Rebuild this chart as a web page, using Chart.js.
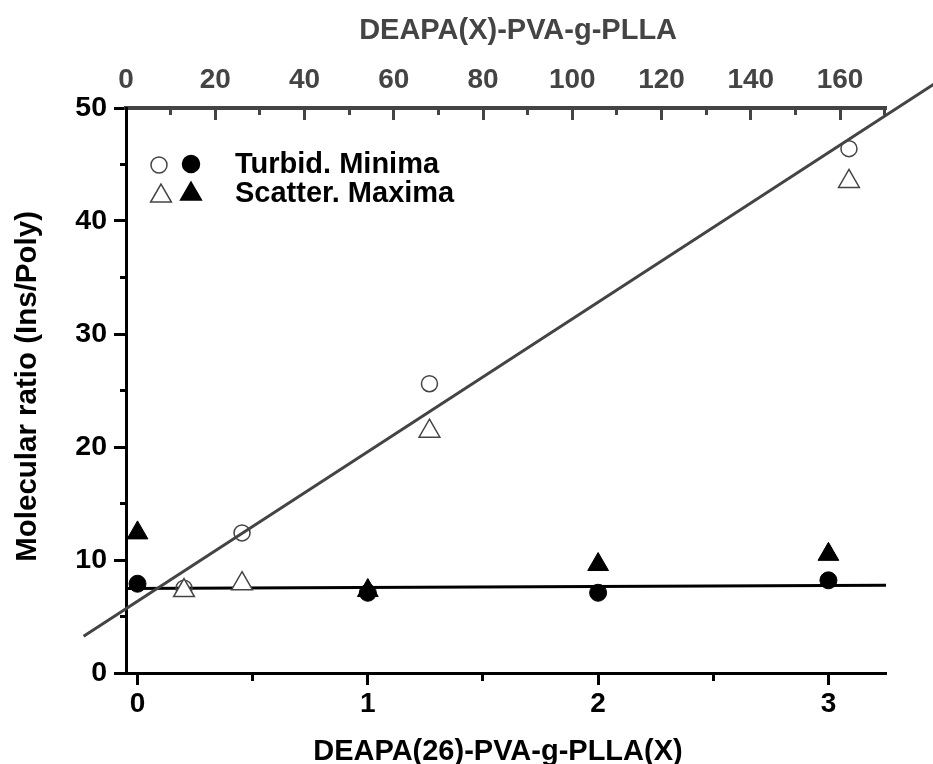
<!DOCTYPE html>
<html>
<head>
<meta charset="utf-8">
<script src="https://cdn.jsdelivr.net/npm/chart.js@4.4.1/dist/chart.umd.min.js"></script>
<style>
  html, body { margin: 0; padding: 0; background: #fff; }
</style>
</head>
<body>
<canvas id="ratioChart" width="933" height="764"></canvas>
<script>
// filled symbols, bottom axis: DEAPA(26)-PVA-g-PLLA(X)
const bottomX = [0, 1, 2, 3];
const turbidFilled = [7.9, 7.1, 7.1, 8.2];
const scatterFilled = [12.4, 7.3, 9.6, 10.5];

// open symbols, top axis: DEAPA(X)-PVA-g-PLLA
const topX = [13, 26, 68, 162];
const turbidOpen = [7.5, 12.4, 25.6, 46.4];
const scatterOpen = [7.3, 7.9, 21.4, 43.5];

// the two straight lines, ends
const steepLineX = [-9.5, 181];      // top axis units
const steepLineY = [3.25, 52.1];
const flatLineX = [-0.05, 3.25];     // bottom axis units
const flatLineY = [7.47, 7.77];

// tick positions (major + minor)
const bottomTicks = [0, 0.5, 1, 1.5, 2, 2.5, 3];
const topTicks = [0, 10, 20, 30, 40, 50, 60, 70, 80, 90, 100, 110, 120, 130, 140, 150, 160, 170];
const leftTicks = [0, 5, 10, 15, 20, 25, 30, 35, 40, 45, 50];

const FONT = '"Liberation Sans", Arial, sans-serif';
const GREY = "#444444";

const pts = (xs, ys) => xs.map((x, i) => ({ x: x, y: ys[i] }));
const setTicks = (values) => (scale) => {
  scale.ticks = values.map(v => ({ value: v }));
};

// legend drawn in the upper-left corner of the plot
const legendPlugin = {
  id: "symbolLegend",
  afterDraw(chart) {
    const ctx = chart.ctx;
    const draw = Chart.helpers.drawPoint;
    ctx.save();
    ctx.lineWidth = 1.5;
    ctx.strokeStyle = GREY;
    ctx.fillStyle = "rgba(0,0,0,0)";
    draw(ctx, { pointStyle: "circle", radius: 8, borderWidth: 1.5 }, 159, 165);
    ctx.fillStyle = "#fff";
    draw(ctx, { pointStyle: "triangle", radius: 12, borderWidth: 1.5 }, 161, 196);
    ctx.fillStyle = "#000";
    ctx.strokeStyle = "#000";
    draw(ctx, { pointStyle: "circle", radius: 8.5, borderWidth: 1 }, 191, 164);
    draw(ctx, { pointStyle: "triangle", radius: 12, borderWidth: 1 }, 191, 194);
    ctx.font = "bold 29px " + FONT;
    ctx.textBaseline = "middle";
    ctx.textAlign = "left";
    ctx.fillText("Turbid. Minima", 235, 165);
    ctx.fillText("Scatter. Maxima", 235, 194);
    ctx.restore();
  }
};

const ctx = document.getElementById("ratioChart").getContext("2d");

window.ratioChart = new Chart(ctx, {
  type: "scatter",
  data: {
    datasets: [
      {
        label: "Turbid. Minima (X)",
        xAxisID: "x2",
        data: pts(topX, turbidOpen),
        pointStyle: "circle",
        pointRadius: 8,
        pointBackgroundColor: "rgba(0,0,0,0)",
        pointBorderColor: GREY,
        pointBorderWidth: 1.5,
        order: 2,
        clip: false
      },
      {
        label: "Scatter. Maxima (X)",
        xAxisID: "x2",
        data: pts(topX, scatterOpen),
        pointStyle: "triangle",
        pointRadius: 12,
        pointBackgroundColor: "#fff",
        pointBorderColor: GREY,
        pointBorderWidth: 1.5,
        order: 1,
        clip: false
      },
      {
        label: "Turbid. Minima (26)",
        xAxisID: "x",
        data: pts(bottomX, turbidFilled),
        pointStyle: "circle",
        pointRadius: 8.5,
        pointBackgroundColor: "#000",
        pointBorderColor: "#000",
        pointBorderWidth: 1,
        order: 1,
        clip: false
      },
      {
        label: "Scatter. Maxima (26)",
        xAxisID: "x",
        data: pts(bottomX, scatterFilled),
        pointStyle: "triangle",
        pointRadius: 12,
        pointBackgroundColor: "#000",
        pointBorderColor: "#000",
        pointBorderWidth: 1,
        order: 2,
        clip: false
      },
      {
        label: "fit (X)",
        xAxisID: "x2",
        data: pts(steepLineX, steepLineY),
        showLine: true,
        borderColor: GREY,
        borderWidth: 3,
        pointRadius: 0,
        order: 5,
        clip: false
      },
      {
        label: "fit (26)",
        xAxisID: "x",
        data: pts(flatLineX, flatLineY),
        showLine: true,
        borderColor: "#000",
        borderWidth: 3,
        pointRadius: 0,
        order: 5,
        clip: false
      }
    ]
  },
  options: {
    responsive: false,
    animation: false,
    events: [],
    layout: { padding: { left: 0, right: 47, top: 0, bottom: 0 } },
    plugins: {
      legend: { display: false },
      tooltip: { enabled: false }
    },
    scales: {
      x: {
        type: "linear",
        position: "bottom",
        min: -0.05,
        max: 3.25,
        afterBuildTicks: setTicks(bottomTicks),
        afterFit: (scale) => { scale.height = 91; },
        border: { display: true, color: "#000", width: 3 },
        grid: {
          drawOnChartArea: false,
          drawTicks: true,
          tickLength: 12,
          tickWidth: 3,
          tickColor: "#000",
          tickBorderDash: (c) => Number.isInteger(c.tick.value) ? [] : [6, 40]
        },
        ticks: {
          autoSkip: false,
          maxRotation: 0,
          padding: 5,
          color: "#000",
          font: { family: FONT, size: 28, weight: "bold", lineHeight: 1 },
          callback: (v) => Number.isInteger(v) ? String(v) : ""
        },
        title: {
          display: true,
          text: "DEAPA(26)-PVA-g-PLLA(X)  ",
          color: "#000",
          font: { family: FONT, size: 29, weight: "bold", lineHeight: 1 },
          padding: { top: 0, bottom: -2 }
        }
      },
      x2: {
        type: "linear",
        position: "top",
        min: 0,
        max: 170.3,
        afterBuildTicks: setTicks(topTicks),
        afterFit: (scale) => { scale.height = 108; },
        border: { display: true, color: GREY, width: 4 },
        grid: {
          drawOnChartArea: false,
          drawTicks: true,
          tickLength: -12,
          tickWidth: 3,
          tickColor: GREY,
          tickBorderDash: (c) => c.tick.value % 20 === 0 ? [] : [0, 5, 9, 40]
        },
        ticks: {
          autoSkip: false,
          maxRotation: 0,
          padding: 26,
          color: GREY,
          font: { family: FONT, size: 28, weight: "bold", lineHeight: 1 },
          callback: (v) => v % 20 === 0 ? String(v) : ""
        },
        title: {
          display: true,
          text: "   DEAPA(X)-PVA-g-PLLA",
          color: GREY,
          font: { family: FONT, size: 29, weight: "bold", lineHeight: 1 },
          padding: { top: 16, bottom: 0 }
        }
      },
      y: {
        type: "linear",
        position: "left",
        min: 0,
        max: 50,
        afterBuildTicks: setTicks(leftTicks),
        afterFit: (scale) => { scale.width = 126; },
        border: { display: true, color: "#000", width: 3 },
        grid: {
          drawOnChartArea: false,
          drawTicks: true,
          tickLength: 12,
          tickWidth: 3,
          tickColor: "#000",
          tickBorderDash: (c) => c.tick.value % 10 === 0 ? [] : [0, 6, 9, 40]
        },
        ticks: {
          autoSkip: false,
          padding: 7,
          color: "#000",
          font: { family: FONT, size: 28.5, weight: "bold", lineHeight: 1 },
          callback: (v) => v % 10 === 0 ? String(v) : ""
        },
        title: {
          display: true,
          text: " Molecular ratio (Ins/Poly)",
          color: "#000",
          font: { family: FONT, size: 29.5, weight: "bold", lineHeight: 1 },
          padding: { top: 13, bottom: 0 }
        }
      }
    }
  },
  plugins: [legendPlugin]
});
</script>
</body>
</html>
